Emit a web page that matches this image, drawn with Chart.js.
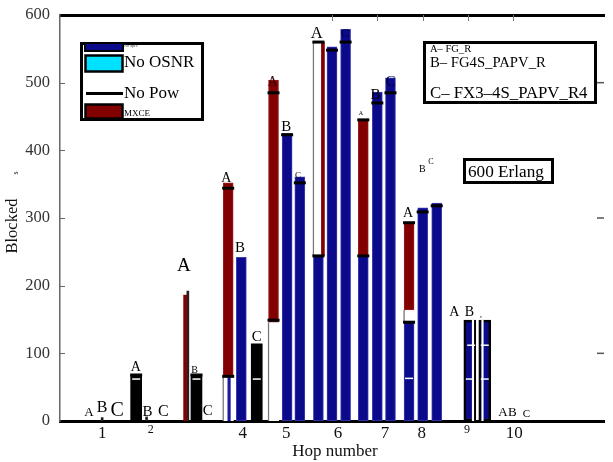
<!DOCTYPE html>
<html><head><meta charset="utf-8">
<script src="https://cdn.jsdelivr.net/npm/chart.js@4.4.1/dist/chart.umd.min.js"></script>
<style>html,body{margin:0;padding:0;background:#fff;}canvas{display:block;}</style>
</head><body>
<canvas id="c" width="613" height="462"></canvas>
<script>
// ---- axis ticks ----
const hopLabels  = ['1','2','4','5','6','7','8','9','10'];
const hopTickPos = [0.93, 2.0, 4.03, 4.99, 6.13, 7.17, 7.98, 8.98, 10.02];
const topTickPos = [6, 7, 8, 9, 10];
const rightTickVals = [100, 300, 500];
const leftTickVals = [100, 200, 300, 400, 500];

// ---- No Spec (blue) bars ----
const noSpecX  = [4.00, 5.01, 5.29, 5.70, 6.00, 6.30, 6.69, 7.00, 7.29, 7.70, 8.00, 8.31];
const noSpecLo = [0, 0, 0, 0, 0, 0, 0, 0, 0, 0, 0, 0];
const noSpecHi = [242, 425, 361, 244, 553, 579, 244, 486, 507, 146, 315, 322];
// hop 9 outlined blue bars
const hop9X  = [9.04, 9.37];
const hop9Hi = [149, 149];
// ---- No OSNR segments (light) ----
const noOsnrX  = [3.71, 4.71, 5.70, 7.70];
const noOsnrLo = [0, 0, 244, 146];
const noOsnrHi = [66, 146, 560, 164];
// ---- MXCE (red) segments ----
const mxceX  = [3.71, 4.71, 6.69, 7.70];
const mxceLo = [66, 146, 244, 164];
const mxceHi = [352, 504, 445, 293];
const mxceThinX  = [2.76, 5.80];
const mxceThinLo = [0, 244];
const mxceThinHi = [186, 560];
// ---- black bars ----
const blackX  = [1.68, 3.01, 4.34];
const blackHi = [68, 68, 114];
const blackThinX  = [0.93, 1.91, 2.82];
const blackThinHi = [5, 6, 192];
// slivers
const blueThinX = [3.73];
const blueThinHi = [66];
const whiteThinX = [9.11, 9.32];
const whiteThinHi = [149, 149];
// ---- No Pow markers ----
const noPowX = [1.68, 3.01, 3.71, 3.71, 4.71, 4.71, 5.01, 5.29, 5.70, 5.70, 6.00, 6.30, 6.69, 6.69, 7.00, 7.29, 7.70, 7.70, 8.00, 8.31];
const noPowY = [68, 68, 66, 344, 149, 485, 423, 352, 244, 560, 548, 560, 244, 445, 470, 485, 146, 293, 309, 318];
// white tick marks
const wTickX = [1.68, 3.01, 4.34, 7.70, 9.04, 9.37, 9.07, 9.37];
const wTickY = [62, 62, 62, 63, 62, 62, 112, 112];
// ---- letter annotations (A/B/C) ----
const letterText = ['A','B','C', 'A','B','C', 'A','B','C', 'A','B','C', 'A','B','C', 'A','C', 'A','B','C', 'A','B','C', 'A','B','c', 'A','B','C'];
const letterX    = [0.64,0.93,1.26, 1.67,1.93,2.28, 2.73,2.97,3.26, 3.67,3.97,4.34, 4.69,4.99,5.25, 5.66,6.29, 6.64,6.96,7.29, 7.68,7.99,8.18, 8.70,9.03,9.29, 9.77,9.98,10.29];
const letterY    = [13,19,15, 80,13,13, 229,75,15, 359,256,124, 500,435,362, 573,573, 455,482,501, 307,372,383, 161,161,154, 12,12,10];
const letterSize = [13,16,20, 14,15,16, 19,10,15, 14,15,15, 14,15,9, 16.5,13, 6,15,15, 14,10,8, 14,14,5, 13,13,11];
const letterColor= ['#000','#000','#000','#000','#000','#000','#000','#000','#000','#000','#000','#000','#300','#000','#000','#000','#00003a','#000','#000','#00003a','#000','#000','#000','#000','#000','#000','#000','#000','#000'];

const SERIF = "'Liberation Serif', 'DejaVu Serif', serif";
Chart.defaults.font.family = SERIF;

function bars(xs, lo, hi) { return xs.map((x, i) => ({x: x, y: [lo ? lo[i] : 0, hi[i]]})); }
function pts(xs, ys) { return xs.map((x, i) => ({x: x, y: ys[i]})); }

const NAVY = '#0a0a8a', RED = '#820000';
const common = {type: 'bar', stack: 'all', borderSkipped: false};

const overlay = {
  id: 'overlay',
  afterDraw(chart) {
    const ctx = chart.ctx, xs = chart.scales.x, ys = chart.scales.y, ca = chart.chartArea;
    ctx.save();
    // inward ticks
    ctx.strokeStyle = '#666'; ctx.lineWidth = 1;
    leftTickVals.forEach(v => { const y = Math.round(ys.getPixelForValue(v)) + 0.5; ctx.beginPath(); ctx.moveTo(ca.left, y); ctx.lineTo(ca.left + 5, y); ctx.stroke(); });
    ctx.strokeStyle = '#555'; ctx.lineWidth = 1.5;
    rightTickVals.forEach(v => { const y = ys.getPixelForValue(v); ctx.beginPath(); ctx.moveTo(ca.right - 7, y); ctx.lineTo(ca.right, y); ctx.stroke(); });
    ctx.strokeStyle = '#777'; ctx.lineWidth = 1;
    topTickPos.forEach(v => { const x = Math.round(xs.getPixelForValue(v)) + 0.5; ctx.beginPath(); ctx.moveTo(x, ca.top); ctx.lineTo(x, ca.top + 6); ctx.stroke(); });
    // letters
    ctx.textAlign = 'center'; ctx.textBaseline = 'middle';
    letterText.forEach((t, i) => {
      ctx.font = letterSize[i] + 'px ' + SERIF;
      ctx.fillStyle = letterColor[i];
      ctx.fillText(t, xs.getPixelForValue(letterX[i]), ys.getPixelForValue(letterY[i]));
    });
    // axis titles
    ctx.fillStyle = '#111';
    ctx.font = '17px ' + SERIF;
    ctx.fillText('Hop number', 335, 452);
    ctx.save(); ctx.translate(13, 226); ctx.rotate(-Math.PI / 2);
    ctx.font = '16.5px ' + SERIF; ctx.fillText('Blocked', 0, 0);
    ctx.restore();
    ctx.save(); ctx.translate(16, 173); ctx.rotate(-Math.PI / 2);
    ctx.font = '8px ' + SERIF; ctx.fillText('s', 0, 0);
    ctx.restore();
    // legend 1
    ctx.textAlign = 'left';
    ctx.strokeStyle = '#000'; ctx.lineWidth = 3;
    ctx.strokeRect(81.5, 43.5, 121, 76);
    ctx.fillStyle = NAVY; ctx.fillRect(86, 43, 36, 7);
    ctx.lineWidth = 2; ctx.strokeRect(85, 43, 38, 8);
    ctx.fillStyle = '#00e0ff'; ctx.fillRect(86, 56, 36, 15);
    ctx.lineWidth = 2.5; ctx.strokeRect(85.5, 55.5, 37, 16);
    ctx.lineWidth = 3; ctx.beginPath(); ctx.moveTo(86, 93.5); ctx.lineTo(123, 93.5); ctx.stroke();
    ctx.fillStyle = RED; ctx.fillRect(86, 105, 36, 13);
    ctx.lineWidth = 2.5; ctx.strokeRect(85.5, 104.5, 37, 14);
    ctx.fillStyle = '#333'; ctx.font = '4px ' + SERIF; ctx.fillText('No Spec', 124, 46);
    ctx.fillStyle = '#000'; ctx.font = '17px ' + SERIF;
    ctx.fillText('No OSNR', 124, 63);
    ctx.fillText('No Pow', 124, 94);
    ctx.font = '9px ' + SERIF; ctx.fillText('MXCE', 124, 114);
    // legend 2
    ctx.lineWidth = 3; ctx.strokeRect(424.5, 42.5, 171, 60);
    ctx.font = '10.5px ' + SERIF; ctx.fillText('A\u2013 FG_R', 430, 49);
    ctx.font = '14.7px ' + SERIF; ctx.fillText('B\u2013 FG4S_PAPV_R', 430, 63);
    ctx.font = '16.8px ' + SERIF; ctx.fillText('C\u2013 FX3\u20134S_PAPV_R4', 430, 94);
    // erlang box
    ctx.lineWidth = 3; ctx.strokeRect(464.5, 159.5, 88, 23);
    ctx.font = '17.2px ' + SERIF; ctx.fillText('600 Erlang', 468, 172);
    ctx.restore();
  }
};

new Chart(document.getElementById('c'), {
  type: 'bar',
  data: {
    datasets: [
      {...common, label: 'No OSNR', data: bars(noOsnrX, noOsnrLo, noOsnrHi), backgroundColor: '#fff', borderColor: '#777', borderWidth: {left: 1.5, top: 0, right: 0, bottom: 0}, barThickness: 11, order: 6},
      {...common, label: 'MXCE', data: bars(mxceX, mxceLo, mxceHi), backgroundColor: RED, borderColor: '#9a2020', borderWidth: 1, barThickness: 10, order: 5},
      {...common, label: 'No Spec', data: bars(noSpecX, noSpecLo, noSpecHi), backgroundColor: NAVY, borderColor: '#3c3cae', borderWidth: 1, barThickness: 10, order: 5},
      {...common, label: 'No Spec 9', data: bars(hop9X, null, hop9Hi), backgroundColor: NAVY, borderColor: '#000', borderWidth: 2.5, barThickness: 12, order: 5},
      {...common, label: 'black', data: bars(blackX, null, blackHi), backgroundColor: '#000', borderWidth: 0, barThickness: 11, order: 5},
      {...common, label: 'red thin', data: bars(mxceThinX, mxceThinLo, mxceThinHi), backgroundColor: RED, borderWidth: 0, barThickness: 3, order: 3},
      {...common, label: 'black thin', data: bars(blackThinX, null, blackThinHi), backgroundColor: '#222', borderWidth: 0, barThickness: 2, order: 3},
      {...common, label: 'blue thin', data: bars(blueThinX, null, blueThinHi), backgroundColor: '#1a1aa0', borderWidth: 0, barThickness: 2.5, order: 3},
      {...common, label: 'white thin', data: bars(whiteThinX, null, whiteThinHi), backgroundColor: '#fff', borderWidth: 0, barThickness: 1.5, order: 3},
      {type: 'scatter', label: 'No Pow', data: pts(noPowX, noPowY), pointStyle: 'line', pointRadius: 6, pointHoverRadius: 6, borderColor: '#000', backgroundColor: '#000', pointBorderWidth: 3, borderWidth: 3, order: 1},
      {type: 'scatter', label: 'ticks', data: pts(wTickX, wTickY), pointStyle: 'line', pointRadius: 4, pointHoverRadius: 4, borderColor: '#fff', backgroundColor: '#fff', pointBorderWidth: 1.5, borderWidth: 1.5, order: 0}
    ]
  },
  options: {
    responsive: false,
    animation: false,
    devicePixelRatio: 1,
    layout: {padding: {top: 15, right: 0, left: 0, bottom: 0}},
    plugins: {legend: {display: false}, tooltip: {enabled: false}},
    scales: {
      x: {
        type: 'linear', position: 'bottom', min: 0, max: 12, offset: false,
        grid: {display: false},
        border: {display: true, color: '#000', width: 3},
        afterBuildTicks: s => { s.ticks = hopTickPos.map(v => ({value: v})); },
        afterFit: s => { s.height = 41; },
        ticks: {
          autoSkip: false, maxRotation: 0, padding: -6, color: '#111',
          callback: (v, i) => hopLabels[i],
          font: ctx => ({size: (ctx.index === 1 || ctx.index === 7) ? 12 : 17, family: SERIF})
        }
      },
      x2: {
        type: 'linear', position: 'top', min: 0, max: 12, offset: false,
        grid: {display: false}, ticks: {display: false},
        border: {display: true, color: '#000', width: 3},
        afterFit: s => { s.height = 0; }
      },
      y: {
        type: 'linear', min: 0, max: 600, stacked: false,
        grid: {display: false},
        border: {display: true, color: '#666', width: 1.5},
        afterFit: s => { s.width = 60; },
        ticks: {stepSize: 100, padding: 2, color: '#333', font: {size: 16.5, family: SERIF}}
      }
    }
  },
  plugins: [overlay]
});
</script>
</body></html>
